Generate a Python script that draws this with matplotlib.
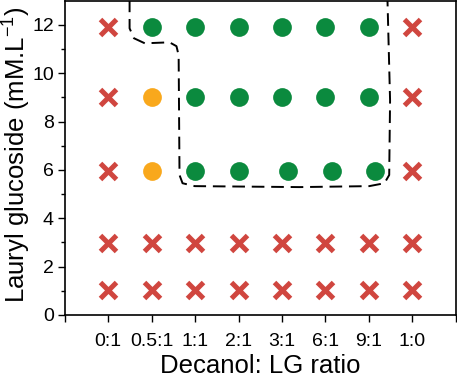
import numpy as np
import matplotlib.pyplot as plt

plt.rcParams['font.family'] = ['Liberation Sans', 'DejaVu Sans']

# categories on the x axis (positions 1..8)
ratio_labels = ['0:1', '0.5:1', '1:1', '2:1', '3:1', '6:1', '9:1', '1:0']

# no emulsion / unstable (red crosses)
fail_x = [1, 8, 1, 8, 1, 8,
          1, 2, 3, 4, 5, 6, 7, 8,
          1, 2, 3, 4, 5, 6, 7, 8]
fail_y = [11.9, 11.9, 9.0, 9.0, 5.95, 5.95,
          2.97, 2.97, 2.97, 2.97, 2.97, 2.97, 2.97, 2.97,
          1.03, 1.03, 1.03, 1.03, 1.03, 1.03, 1.03, 1.03]

# partially stable (orange)
part_x = [2, 2]
part_y = [9.0, 5.95]

# stable (green)
ok_x = [2, 3, 4, 5, 6, 7,
        3, 4, 5, 6, 7,
        3, 4, 5.15, 6.15, 7.15]
ok_y = [11.9, 11.9, 11.9, 11.9, 11.9, 11.9,
        9.0, 9.0, 9.0, 9.0, 9.0,
        5.95, 5.95, 5.95, 5.95, 5.95]

# dashed boundary of the stable region
zone_x = [1.49, 1.49, 1.59, 1.84, 2.41, 2.57, 2.62, 2.64, 2.71, 2.99,
          5.40, 7.01, 7.36, 7.47, 7.49, 7.43]
zone_y = [13.05, 11.86, 11.45, 11.24, 11.28, 11.12, 10.74, 5.79, 5.45, 5.33,
          5.29, 5.33, 5.45, 5.79, 8.88, 13.05]

fig = plt.figure(figsize=(4.57, 3.79), dpi=100)
ax = fig.add_axes([0.142, 0.169, 0.855, 0.829])

ax.plot(zone_x, zone_y, color='black', lw=1.4, ls=(0, (6.5, 3.5)), zorder=2)

ax.plot(fail_x, fail_y, ls='none', marker='x', ms=11, mew=3.6,
        color='#d0463f', zorder=3)
ax.plot(part_x, part_y, ls='none', marker='o', ms=13.5, mew=0,
        color='#f9a81c', zorder=3)
ax.plot(ok_x, ok_y, ls='none', marker='o', ms=13.5, mew=0,
        color='#0b8a3e', zorder=3)

ax.set_xlim(0, 9)
ax.set_ylim(0, 13)
ax.set_xticks(range(10))
ax.set_xticklabels([''] + ratio_labels + [''])
ax.set_yticks(range(0, 13, 2))
ax.set_yticks(range(1, 13, 2), minor=True)

ax.tick_params(axis='both', which='major', direction='out', length=5,
               width=1, labelsize=14)
ax.tick_params(axis='y', which='minor', direction='out', length=3, width=1)
ax.tick_params(axis='x', pad=8)
ax.tick_params(axis='y', pad=3)

for sp in ax.spines.values():
    sp.set_linewidth(1.2)

ax.set_xlabel('Decanol: LG ratio', fontsize=18.5, va='baseline')
ax.xaxis.set_label_coords(0.5, -0.186)
ax.set_ylabel('Lauryl glucoside (mM.L$^{\\mathregular{-1}}$)', fontsize=18.5)
ax.yaxis.set_label_coords(-0.083, 0.51)

fig.savefig('out.png', dpi=100)
